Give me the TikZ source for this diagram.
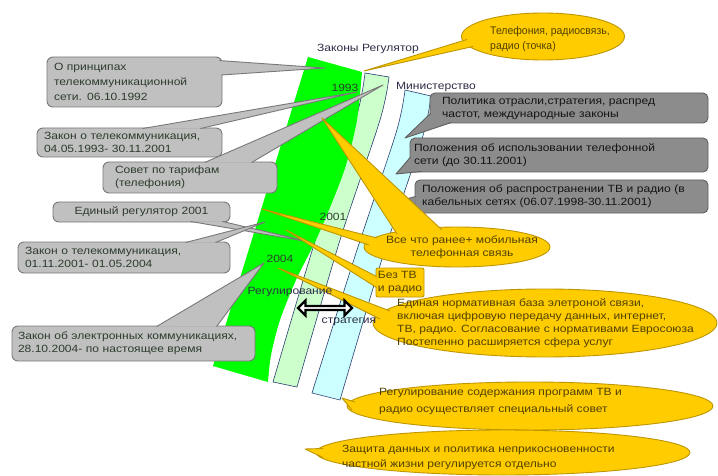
\documentclass[tikz,border=0pt]{standalone}
\usepackage{fontspec}
\setmainfont{Liberation Sans}[FakeStretch=1.15]
\newfontfamily\narrowfont{Liberation Sans}[FakeStretch=0.95]
\usetikzlibrary{calc,shapes.geometric,shapes.arrows}
\definecolor{grn}{RGB}{0,255,0}
\definecolor{lgrn}{RGB}{204,255,204}
\definecolor{lblu}{RGB}{204,255,255}
\definecolor{bandline}{RGB}{40,60,110}
\definecolor{gfill}{RGB}{192,192,192}
\definecolor{gline}{RGB}{120,120,120}
\definecolor{gtext}{RGB}{45,60,45}
\definecolor{dfill}{RGB}{140,140,140}
\definecolor{dline}{RGB}{95,95,95}
\definecolor{dtext}{RGB}{20,20,20}
\definecolor{yfill}{RGB}{255,204,0}
\definecolor{yline}{RGB}{190,150,0}
\definecolor{ytext}{RGB}{80,65,0}
\definecolor{lbltext}{RGB}{45,45,70}
\tikzset{
  gbox/.style={rectangle, rounded corners=6pt, fill=gfill, draw=gline, line width=0.9pt, text=gtext, align=left, inner xsep=7pt, inner ysep=2pt, font=\fontsize{10.5}{13}\selectfont},
  dbox/.style={rectangle, rounded corners=5pt, fill=dfill, draw=dline, line width=0.9pt, text=dtext, align=left, inner xsep=6pt, inner ysep=2pt, font=\fontsize{10.5}{13}\selectfont},
  yell/.style={ellipse, fill=yfill, draw=yline, line width=0.9pt, inner sep=0pt},
  ytxt/.style={text=ytext, inner sep=0pt, font=\fontsize{10.5}{13}\selectfont},
  gwl/.style={draw=gline, line width=0.9pt, line join=round},
  dwl/.style={draw=dline, line width=0.9pt, line join=round},
  ywl/.style={draw=yline, line width=0.9pt, line join=round},
  bandedge/.style={draw=bandline, line width=0.6pt},
  lbl/.style={font=\fontsize{10.5}{13}\selectfont, inner sep=0pt, text=lbltext},
}
\begin{document}
\begin{tikzpicture}[x=1pt,y=-1pt]
\useasboundingbox (0,0) rectangle (718,476);
\fill[white] (0,0) rectangle (718,476);

% ---- bands ----
\filldraw[fill=lblu, bandedge] plot[smooth] coordinates {(405,90) (396,133) (356,253) (312,393)}
  -- plot[smooth] coordinates {(340,400) (382,259) (422,139) (431,96)} -- cycle;
\filldraw[fill=lgrn, bandedge] plot[smooth] coordinates {(365,73) (356,118) (316,238) (273,382)}
  -- plot[smooth] coordinates {(297,387) (340,240) (380,120) (389,77)} -- cycle;
\fill[grn] plot[smooth] coordinates {(362,72) (357,120) (346,165) (333,200) (316,240) (296,280) (280,320) (271,355) (268,382)}
  -- (213,366) -- (308,57) -- cycle;

% ---- grey callouts (left) ----
\node[gbox, text width=161pt, minimum height=50pt, font=\fontsize{10.5}{15}\selectfont] (b1) at (134.5,82) {О принципах\\телекоммуникационной\\сети. 06.10.1992};
\coordinate (t1) at (325,68);
\coordinate (b1p) at ($(b1.north east)+(-3,4)$);
\coordinate (b1q) at ($(b1.east)+(-1,-7)$);
\fill[gfill] (b1p) -- (t1) -- (b1q) -- cycle;
\draw[gwl] (b1p) -- (t1) -- (b1q);

\node[gbox, text width=171pt, minimum height=29pt] (b2) at (129.5,142.5) {Закон о телекоммуникация,\\04.05.1993- 30.11.2001};
\coordinate (t2) at (357,92);
\coordinate (b2p) at ($(b2.north east)+(-80,1)$);
\coordinate (b2q) at ($(b2.north east)+(-22,1)$);
\fill[gfill] (b2p) -- (t2) -- (b2q) -- cycle;
\draw[gwl] (b2p) -- (t2) -- (b2q);

\node[gbox, inner xsep=12pt, text width=150pt, minimum height=31pt] (b3) at (190,177.5) {Совет по тарифам\\(телефония)};
\coordinate (t3) at (383,85);
\coordinate (b3p) at ($(b3.north west)+(102,1)$);
\coordinate (b3q) at ($(b3.north west)+(149,1)$);
\fill[gfill] (b3p) -- (t3) -- (b3q) -- cycle;
\draw[gwl] (b3p) -- (t3) -- (b3q);

\node[gbox, align=center, text width=163pt, minimum height=20pt] (b4) at (141.5,212) {Единый регулятор 2001};
\coordinate (t4) at (310,242);
\coordinate (b4p) at ($(b4.south east)+(-40,-1)$);
\coordinate (b4q) at ($(b4.south east)+(-8,-1)$);
\fill[gfill] (b4p) -- (t4) -- (b4q) -- cycle;
\draw[gwl] (b4p) -- (t4) -- (b4q);

\node[gbox, text width=198pt, minimum height=31pt] (b5) at (124,257.5) {Закон о телекоммуникация,\\01.11.2001- 01.05.2004};
\coordinate (t5) at (265,222);
\coordinate (b5p) at ($(b5.north east)+(-45,1)$);
\coordinate (b5q) at ($(b5.north east)+(-15,1)$);
\fill[gfill] (b5p) -- (t5) -- (b5q) -- cycle;
\draw[gwl] (b5p) -- (t5) -- (b5q);

\node[gbox, inner xsep=6pt, text width=231pt, minimum height=35pt] (b6) at (133.5,343.5) {Закон об электронных коммуникациях,\\28.10.2004- по настоящее время};
\coordinate (t6) at (264,263);
\coordinate (b6p) at ($(b6.north west)+(145,1)$);
\coordinate (b6q) at ($(b6.north west)+(205,1)$);
\fill[gfill] (b6p) -- (t6) -- (b6q) -- cycle;
\draw[gwl] (b6p) -- (t6) -- (b6q);

% ---- dark grey callouts (right) ----
\node[dbox, inner xsep=12pt, text width=254pt, minimum height=30pt] (b7) at (569,108) {Политика отрасли,стратегия, распред\\частот, международные законы};
\coordinate (t7) at (405,138);
\coordinate (b7p) at ($(b7.south west)+(1,-10)$);
\coordinate (b7q) at ($(b7.south west)+(22,-1)$);
\fill[dfill] (b7p) -- (t7) -- (b7q) -- cycle;
\draw[dwl] (b7p) -- (t7) -- (b7q);

\node[dbox, inner xsep=4pt, text width=290pt, minimum height=34pt] (b8) at (559,155) {Положения об использовании телефонной\\сети (до 30.11.2001)};
\coordinate (t8) at (396,174);
\coordinate (b8p) at ($(b8.west)+(1,2)$);
\coordinate (b8q) at ($(b8.south west)+(12,-1)$);
\fill[dfill] (b8p) -- (t8) -- (b8q) -- cycle;
\draw[dwl] (b8p) -- (t8) -- (b8q);

\node[dbox, inner xsep=7pt, text width=279pt, minimum height=33pt] (b9) at (561.5,196.5) {Положения об распространении ТВ и радио (в\\кабельных сетях (06.07.1998-30.11.2001)};
\coordinate (t9) at (380,206);
\coordinate (b9p) at ($(b9.west)+(1,0)$);
\coordinate (b9q) at ($(b9.south west)+(1,-4)$);
\fill[dfill] (b9p) -- (t9) -- (b9q) -- cycle;
\draw[dwl] (b9p) -- (t9) -- (b9q);

% ---- yellow callouts ----
\node[yell, minimum width=163pt, minimum height=47pt] (e10) at (543,36.5) {};
\node[ytxt, align=left, anchor=west, font=\narrowfont\fontsize{11}{15}\selectfont] (e10t) at (490,39.5) {Телефония, радиосвязь,\\радио (точка)};
\coordinate (t10) at (364,71);
\coordinate (e10p) at ($(e10.center)+(-76,3)$);
\coordinate (e10q) at ($(e10.center)+(-70,10)$);
\fill[yfill] (e10p) -- (t10) -- (e10q) -- cycle;
\draw[ywl] (e10p) -- (t10) -- (e10q);

\node[yell, minimum width=186pt, minimum height=40pt] (e11) at (457,247) {};
\node[ytxt, align=center] (e11t) at (462,247) {Все что ранее+ мобильная\\телефонная связь};
\coordinate (t11) at (322,118);
\coordinate (e11p) at ($(e11.center)+(-60,-13)$);
\coordinate (e11q) at ($(e11.center)+(-15,-17)$);
\fill[yfill] (e11p) -- (t11) -- (e11q) -- cycle;
\draw[ywl] (e11p) -- (t11) -- (e11q);
\coordinate (t11b) at (262,209);
\coordinate (e11r) at ($(e11.center)+(-80,-9)$);
\coordinate (e11s) at ($(e11.center)+(-88,-2)$);
\fill[yfill] (e11r) -- (t11b) -- (e11s) -- cycle;
\draw[ywl] (e11r) -- (t11b) -- (e11s);

\node[rectangle, rounded corners=2pt, fill=yfill, draw=yline, line width=0.9pt, text=ytext, align=left, inner xsep=2pt, inner ysep=1pt, minimum width=46pt, minimum height=29pt, font=\fontsize{10.5}{13}\selectfont] (e12) at (400,282.5) {Без ТВ\\и радио};
\coordinate (t12) at (286,230);
\coordinate (e12p) at ($(e12.west)+(1,-6)$);
\coordinate (e12q) at ($(e12.west)+(1,5)$);
\fill[yfill] (e12p) -- (t12) -- (e12q) -- cycle;
\draw[ywl] (e12p) -- (t12) -- (e12q);

\node[yell, minimum width=344pt, minimum height=68pt] (e13) at (545,323) {};
\node[ytxt, align=left, anchor=west] (e13t) at (397,323.5) {Единая нормативная база элетроной связи,\\включая цифровую передачу данных, интернет,\\ТВ, радио. Согласование с нормативами Евросоюза\\Постепенно расширяется сфера услуг};
\coordinate (t13) at (278,268);
\coordinate (e13p) at ($(e13.center)+(-155,-12)$);
\coordinate (e13q) at ($(e13.center)+(-165,-4)$);
\fill[yfill] (e13p) -- (t13) -- (e13q) -- cycle;
\draw[ywl] (e13p) -- (t13) -- (e13q);

\node[yell, minimum width=366pt, minimum height=48pt] (e14) at (530,406) {};
\node[ytxt, align=left, anchor=west, font=\fontsize{10.5}{16.5}\selectfont] (e14t) at (379,401.5) {Регулирование содержания программ ТВ и\\радио осуществляет специальный совет};
\coordinate (t14) at (342,398);
\coordinate (e14p) at ($(e14.center)+(-175,-4)$);
\coordinate (e14q) at ($(e14.center)+(-178,4)$);
\fill[yfill] (e14p) -- (t14) -- (e14q) -- cycle;
\draw[ywl] (e14p) -- (t14) -- (e14q);

\node[yell, minimum width=374pt, minimum height=45pt] (e15) at (503,452.5) {};
\node[ytxt, align=left, anchor=west, font=\fontsize{10.5}{15}\selectfont] (e15t) at (342,457) {Защита данных и политика неприкосновенности\\частной жизни регулируется отдельно};
\coordinate (t15) at (305,449);
\coordinate (e15p) at ($(e15.center)+(-180,-4)$);
\coordinate (e15q) at ($(e15.center)+(-180,5)$);
\fill[yfill] (e15p) -- (t15) -- (e15q) -- cycle;
\draw[ywl] (e15p) -- (t15) -- (e15q);

% ---- labels ----
\node[lbl] (zak) at (368,49) {Законы Регулятор};
\node[lbl] (min) at (436,87) {Министерство};
\node[lbl, text=gtext] (y93) at (345,88) {1993};
\node[lbl, text=gtext] (y01) at (333,217) {2001};
\node[lbl, text=gtext] (y04) at (280,259) {2004};
\node[lbl] (reg) at (290,292) {Регулирование};
\node[lbl] (str) at (349,322) {стратегия};
\node[double arrow, draw=black, fill=white, line width=2.2pt, minimum height=54pt, minimum width=15pt, double arrow head extend=3pt, inner sep=0pt] (arr) at (325,308) {};
\end{tikzpicture}
\end{document}
